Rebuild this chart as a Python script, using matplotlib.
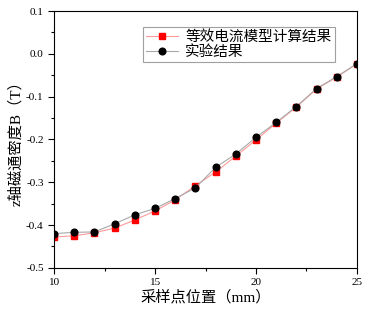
import matplotlib.pyplot as plt
from matplotlib.ticker import MultipleLocator

plt.rcParams['font.family'] = ['Liberation Serif', 'Noto Sans CJK SC']

# sample positions (mm)
pos = [10, 11, 12, 13, 14, 15, 16, 17, 18, 19, 20, 21, 22, 23, 24, 25]
# equivalent current model result (T)
b_model = [-0.428, -0.425, -0.418, -0.407, -0.388, -0.367, -0.341, -0.308,
           -0.276, -0.239, -0.201, -0.162, -0.124, -0.082, -0.054, -0.023]
# experiment result (T)
b_exp = [-0.420, -0.417, -0.416, -0.397, -0.376, -0.361, -0.338, -0.313,
         -0.265, -0.234, -0.195, -0.160, -0.123, -0.081, -0.053, -0.023]

fig = plt.figure(figsize=(3.68, 3.17), dpi=100)
ax = fig.add_axes([0.147, 0.155, 0.823, 0.81])

ax.plot(pos, b_model, color='#ff9a9a', lw=0.8, marker='s', ms=4.2,
        mfc='red', mec='red', label='等效电流模型计算结果')
ax.plot(pos, b_exp, color='#a8a8a8', lw=0.8, marker='o', ms=4.8,
        mfc='black', mec='black', label='实验结果')

ax.set_xlim(10, 25)
ax.set_ylim(-0.5, 0.1)
ax.xaxis.set_major_locator(MultipleLocator(5))
ax.xaxis.set_minor_locator(MultipleLocator(2.5))
ax.yaxis.set_major_locator(MultipleLocator(0.1))
ax.yaxis.set_minor_locator(MultipleLocator(0.05))
ax.yaxis.set_major_formatter(plt.FuncFormatter(lambda v, p: '%.1f' % v))
ax.tick_params(which='major', direction='out', length=4, width=0.8, labelsize=8)
ax.tick_params(which='minor', direction='out', length=2.5, width=0.8)

ax.set_xlabel('采样点位置（mm）', fontsize=11, labelpad=2)
ax.set_ylabel('z轴磁通密度B（T）', fontsize=11, labelpad=2)

leg = ax.legend(loc='upper right', bbox_to_anchor=(0.95, 0.965), fontsize=10.5,
                fancybox=False, edgecolor='#a0a0a0', framealpha=1,
                handlelength=2.2, borderpad=0.2, labelspacing=0.1,
                handletextpad=0.5)
leg.get_frame().set_linewidth(0.8)

fig.savefig('out.png', dpi=100)
